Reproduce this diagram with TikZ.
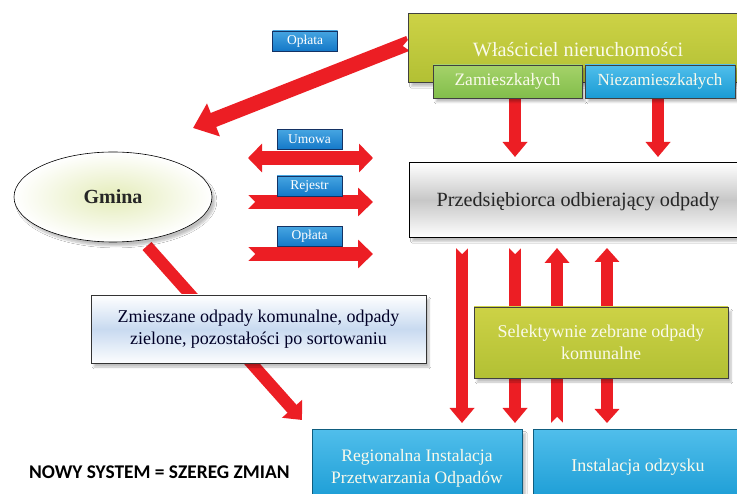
\documentclass[tikz,border=0pt]{standalone}
\usepackage{fontspec}
\setmainfont{Liberation Serif}
\newfontfamily\calib{Carlito}
\usetikzlibrary{arrows.meta,shapes.geometric,shadows.blur}
\definecolor{arrred}{RGB}{236,30,36}
\definecolor{olivetop}{RGB}{205,210,70}
\definecolor{olivebot}{RGB}{178,192,52}
\definecolor{greentop}{RGB}{165,210,105}
\definecolor{greenbot}{RGB}{130,190,75}
\definecolor{bluetop}{RGB}{80,190,235}
\definecolor{bluebot}{RGB}{25,155,212}
\definecolor{labtop}{RGB}{70,165,225}
\definecolor{labbot}{RGB}{20,120,200}
\definecolor{labedge}{RGB}{20,50,100}
\definecolor{gminain}{RGB}{228,236,185}
\definecolor{zmmid}{RGB}{200,218,240}
\definecolor{txtw}{RGB}{250,250,235}
\begin{document}
\begin{tikzpicture}[x=1pt,y=-1pt,
  box/.style={draw=black!75, line width=0.8pt, inner sep=0pt, align=center,
    blur shadow={shadow blur steps=6, shadow xshift=3pt, shadow yshift=-4pt, shadow opacity=25}},
  olivebox/.style={box, top color=olivetop, bottom color=olivebot, text=txtw},
  greenbox/.style={box, top color=greentop, bottom color=greenbot, text=txtw},
  bluebox/.style={box, top color=bluetop, bottom color=bluebot, text=txtw},
  lab/.style={draw=labedge, line width=0.6pt, top color=labtop, bottom color=labbot,
    text=white, minimum width=65pt, minimum height=20pt, inner sep=0pt,
    font=\fontsize{13.5}{15}\selectfont},
  fatarrow/.style={draw=arrred, line width=#1, line cap=butt},
  plainhead/.style={-{Triangle[width=#1,length=15pt]}},
  dblhead/.style={{Triangle[width=#1,length=14pt]}-{Triangle[width=#1,length=14pt]}},
  notchcut/.style={fill=white}
]
\useasboundingbox[fill=white] (0,0) rectangle (737,494);

% ---------- coordinates for arrow ends
\coordinate (w1) at (409,43);   \coordinate (w2) at (193,128);
\coordinate (u1) at (248,158);  \coordinate (u2) at (373,158);
\coordinate (r1) at (248,202);  \coordinate (r2) at (373,202);
\coordinate (o1) at (248,254);  \coordinate (o2) at (373,254);
\coordinate (z1) at (515,97);   \coordinate (z2) at (515,157);
\coordinate (n1) at (658,97);   \coordinate (n2) at (658,157);
\coordinate (v1a) at (462,248); \coordinate (v1b) at (462,423);
\coordinate (v2a) at (515,248); \coordinate (v2b) at (515,423);
\coordinate (v3a) at (557,423); \coordinate (v3b) at (557,248);
\coordinate (v4a) at (607,248); \coordinate (v4b) at (607,423);
\coordinate (g1) at (147,246);  \coordinate (g2) at (302,420);

% ---------- arrows (behind boxes)
\draw[fatarrow=15pt, -{Triangle[width=34pt,length=22pt]}] (w1) -- (w2);
\draw[fatarrow=14pt, dblhead=28pt] (u1) -- (u2);
\draw[fatarrow=14pt, plainhead=28pt] (r1) -- (r2);
\draw[fatarrow=14pt, plainhead=28pt] (o1) -- (o2);
\draw[fatarrow=12pt, plainhead=24pt] (z1) -- (z2);
\draw[fatarrow=12pt, plainhead=24pt] (n1) -- (n2);
\draw[fatarrow=12pt, plainhead=24pt] (v1a) -- (v1b);
\draw[fatarrow=12pt, plainhead=24pt] (v2a) -- (v2b);
\draw[fatarrow=12pt, plainhead=24pt] (v3a) -- (v3b);
\draw[fatarrow=12pt, dblhead=24pt] (v4a) -- (v4b);
\draw[fatarrow=12pt, plainhead=26pt] (g1) -- (g2);

% ---------- notched tails
\fill[notchcut] ([shift={(-1,-8)}]r1) -- ([shift={(7,0)}]r1) -- ([shift={(-1,8)}]r1) -- cycle;
\fill[notchcut] ([shift={(-1,-8)}]o1) -- ([shift={(7,0)}]o1) -- ([shift={(-1,8)}]o1) -- cycle;
\fill[notchcut] ([shift={(-7,-1)}]v1a) -- ([shift={(0,6)}]v1a) -- ([shift={(7,-1)}]v1a) -- cycle;
\fill[notchcut] ([shift={(-7,-1)}]v2a) -- ([shift={(0,6)}]v2a) -- ([shift={(7,-1)}]v2a) -- cycle;
\fill[notchcut] ([shift={(-7,1)}]v3a) -- ([shift={(0,-6)}]v3a) -- ([shift={(7,1)}]v3a) -- cycle;
\fill[notchcut] ([shift={(4,-9)}]w1) -- ([shift={(-6,3)}]w1) -- ([shift={(4,10)}]w1) -- cycle;

% ---------- boxes
\node[olivebox, minimum width=331pt, minimum height=69pt, anchor=north west] (wl) at (408,13) {};
\node[text=txtw, font=\fontsize{20.3}{24}\selectfont] (wlt) at (578,50) {Właściciel nieruchomości};
\node[greenbox, minimum width=149pt, minimum height=33pt, font=\fontsize{17.5}{20}\selectfont]
  (zam) at (507.5,81.5) {Zamieszkałych};
\node[bluebox, minimum width=150pt, minimum height=33pt, font=\fontsize{17}{20}\selectfont]
  (niez) at (660,81.5) {Niezamieszkałych};

\node[box, draw=black, minimum width=330pt, minimum height=75pt, anchor=north west,
  top color=white, bottom color=white, middle color=black!22] (prz) at (409,162) {};
\node[font=\fontsize{20.2}{24}\selectfont, text=black!85] (przt) at (578,202) {Przedsiębiorca odbierający odpady};

\node[ellipse, draw=black, line width=0.6pt, minimum width=198pt, minimum height=90pt,
  inner color=gminain, outer color=white,
  blur shadow={shadow blur steps=6, shadow xshift=3pt, shadow yshift=-4pt, shadow opacity=25},
  font=\bfseries\fontsize{20}{24}\selectfont, text=black!85] (gmina) at (113,197) {Gmina};

\node[box, draw=black!80, minimum width=335pt, minimum height=68pt,
  top color=white, bottom color=white!95!zmmid, middle color=zmmid,
  text=black!75!blue!60!black, font=\fontsize{18}{22}\selectfont] (zm) at (258.5,329)
  {Zmieszane odpady komunalne, odpady\\zielone, pozostałości po sortowaniu};

\node[olivebox, minimum width=254pt, minimum height=71pt, font=\fontsize{18}{22}\selectfont]
  (sel) at (601,342.5) {Selektywnie zebrane odpady\\komunalne};

\node[bluebox, draw=black!40!bluebot, minimum width=210pt, minimum height=75pt, anchor=north west] (rip) at (312,429) {};
\node[text=txtw, align=center, font=\fontsize{17.5}{22}\selectfont] (ript) at (417,468)
  {Regionalna Instalacja\\Przetwarzania Odpadów};
\node[bluebox, draw=black!40!bluebot, minimum width=210pt, minimum height=75pt, anchor=north west] (io) at (533,429) {};
\node[text=txtw, font=\fontsize{18}{22}\selectfont] (iot) at (638,467) {Instalacja odzysku};

% ---------- labels
\node[lab] (l0) at (305,41) {Opłata};
\node[lab] (l1) at (309.5,139.5) {Umowa};
\node[lab] (l2) at (309.5,186) {Rejestr};
\node[lab] (l3) at (309.5,236.5) {Opłata};

% ---------- caption
\node[anchor=west, font=\calib\bfseries\fontsize{19.4}{23}\selectfont, inner sep=0pt] (cap) at (29,472)
  {NOWY SYSTEM = SZEREG ZMIAN};
\end{tikzpicture}
\end{document}
